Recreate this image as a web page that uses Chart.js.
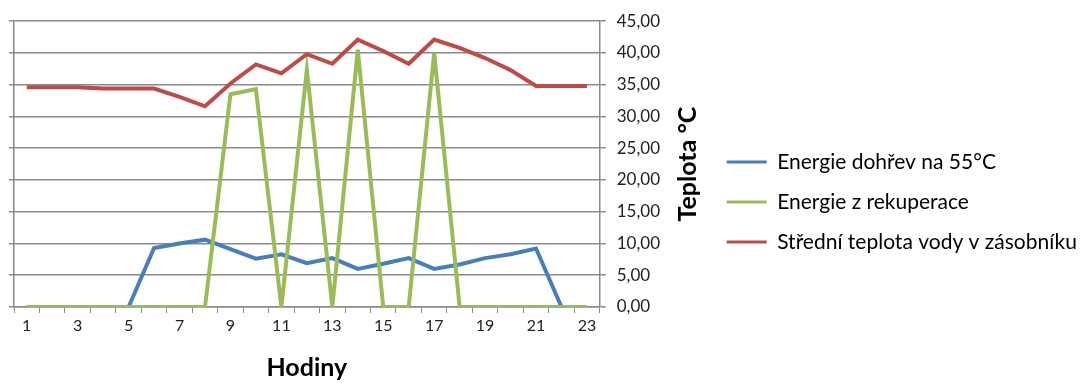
<!DOCTYPE html>
<html>
<head>
<meta charset="utf-8">
<script src="https://cdn.jsdelivr.net/npm/chart.js@4.4.1/dist/chart.umd.min.js"></script>
<style>
  html, body { margin: 0; padding: 0; background: #fff; }
  #wrap { width: 1091px; height: 383px; }
</style>
</head>
<body>
<div id="wrap"><canvas id="tempChart"></canvas></div>
<script>
const hours = ['1','2','3','4','5','6','7','8','9','10','11','12','13','14','15','16','17','18','19','20','21','22','23'];

const energyHeating = [0, 0, 0, 0, 0, 9.3, 10.0, 10.6, 9.1, 7.6, 8.3, 6.9, 7.7, 6.0, 6.8, 7.7, 6.0, 6.7, 7.7, 8.3, 9.2, 0, 0];
const energyRecovery = [0, 0, 0, 0, 0, 0, 0, 0, 33.5, 34.3, 0, 37.4, 0, 40.5, 0, 0, 40.0, 0, 0, 0, 0, 0, 0];
const tankTemp = [34.6, 34.6, 34.6, 34.4, 34.4, 34.4, 33.1, 31.6, 35.2, 38.2, 36.8, 39.8, 38.3, 42.1, 40.3, 38.3, 42.1, 40.8, 39.2, 37.3, 34.8, 34.8, 34.8];

const seriesNames = ['Energie dohřev na 55°C', 'Energie z rekuperace', 'Střední teplota vody v zásobníku'];
const seriesColors = ['#4a7ebb', '#9bbb59', '#be4b48'];

const axisColor = '#8a8a8a';
const fontFamily = 'Lato, "Open Sans", sans-serif';

// y title reads bottom-to-top on the right side, which Chart.js won't do by itself
const yTitlePlugin = {
  id: 'yTitle',
  afterDraw(chart) {
    const { ctx, chartArea } = chart;
    ctx.save();
    ctx.translate(chartArea.right + 88, (chartArea.top + chartArea.bottom) / 2);
    ctx.rotate(-Math.PI / 2);
    ctx.font = 'bold 25px ' + fontFamily;
    ctx.fillStyle = '#000';
    ctx.textAlign = 'center';
    ctx.textBaseline = 'middle';
    ctx.fillText('Teplota °C', 0, 0);
    ctx.restore();
  }
};

const datasets = [energyHeating, energyRecovery, tankTemp].map((values, i) => ({
  label: seriesNames[i],
  data: values,
  borderColor: seriesColors[i],
  backgroundColor: seriesColors[i],
  borderWidth: 4,
  pointRadius: 0,
  tension: 0,
  yAxisID: 'y'
}));

new Chart(document.getElementById('tempChart'), {
  type: 'line',
  data: { labels: hours, datasets: datasets.reverse() },
  plugins: [yTitlePlugin],
  options: {
    responsive: true,
    maintainAspectRatio: false,
    animation: false,
    layout: { padding: { top: 3, left: 9, right: 4 } },
    plugins: {
      tooltip: { enabled: false },
      legend: {
        position: 'right',
        reverse: true,
        maxWidth: 420,
        // empty title just pushes the items a bit below centre
        title: { display: true, text: ' ', font: { size: 1 }, padding: { top: 0, bottom: 17 } },
        labels: {
          boxWidth: 40,
          boxHeight: 3,
          padding: 19,
          color: '#000',
          font: { family: fontFamily, size: 21 },
          generateLabels(chart) {
            return Chart.defaults.plugins.legend.labels.generateLabels(chart).map(l => ({ ...l, lineWidth: 0 }));
          }
        }
      }
    },
    scales: {
      x: {
        offset: true,
        grid: { offset: true, drawOnChartArea: false, drawTicks: true, tickLength: 6, color: axisColor },
        border: { color: axisColor, width: 1.5 },
        ticks: {
          autoSkip: false,
          maxRotation: 0,
          color: '#222',
          font: { family: fontFamily, size: 16 },
          callback(value, index) { return index % 2 === 0 ? hours[index] : ''; }
        },
        title: {
          display: true,
          text: 'Hodiny',
          color: '#000',
          font: { family: fontFamily, size: 25, weight: 'bold' },
          padding: { top: 12, bottom: 0 }
        },
        afterFit(scale) { scale.height = 76; }
      },
      y: {
        position: 'right',
        min: 0,
        max: 45,
        grid: { color: axisColor, lineWidth: 1.5, tickLength: 6 },
        border: { color: axisColor, width: 1.5 },
        ticks: {
          stepSize: 5,
          padding: 11,
          color: '#222',
          font: { family: fontFamily, size: 17 },
          callback(value) { return value.toFixed(2).replace('.', ','); }
        },
        afterFit(scale) { scale.width = 108; }
      },
      yLeft: {
        position: 'left',
        min: 0,
        max: 45,
        grid: { drawOnChartArea: false, tickLength: 5, color: axisColor, lineWidth: 1.5 },
        border: { color: axisColor, width: 1.5 },
        ticks: { stepSize: 5, display: false }
      }
    }
  }
});
</script>
</body>
</html>
